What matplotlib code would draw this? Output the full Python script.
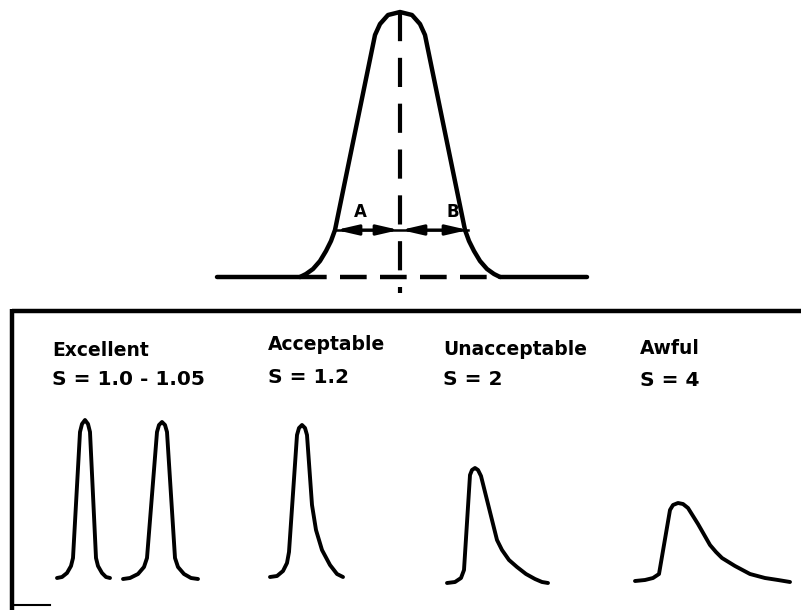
import numpy as np
import matplotlib
matplotlib.use('Agg')
import matplotlib.pyplot as plt

# Coordinates are in pixels of the 801x610 picture (y grows downwards)

# main peak outline and its baseline
main_peak_x = [217, 300, 306, 313, 320, 326, 331, 335, 375, 380, 388, 400, 412, 420, 425,
               465, 469, 474, 480, 487, 494, 500, 587]
main_peak_y = [277, 277, 274, 269, 261, 251, 241, 230, 35, 24, 15, 12, 15, 24, 35,
               230, 241, 251, 261, 269, 274, 277, 277]
baseline_y = 277
center_x = 400
half_width_y = 230
half_left_x = 336
half_right_x = 468

# small example peaks
peak_labels = ['Excellent', 'Acceptable', 'Unacceptable', 'Awful']
peak_factors = ['S = 1.0 - 1.05', 'S = 1.2', 'S = 2', 'S = 4']
label_x = [52, 268, 443, 640]
label_y = [356, 350, 355, 354]
factor_y = [385, 383, 385, 386]

exc1_x = [57, 62, 67, 71, 73, 80, 82, 85, 88, 90, 96, 98, 102, 106, 110]
exc1_y = [578, 577, 573, 566, 558, 432, 424, 420, 424, 432, 558, 566, 573, 577, 578]
exc2_x = [123, 130, 138, 144, 147, 157, 159, 162, 165, 167, 175, 178, 184, 191, 198]
exc2_y = [579, 578, 574, 567, 558, 432, 425, 422, 425, 432, 558, 567, 574, 578, 579]
acc_x = [270, 277, 283, 287, 289, 297, 299, 302, 305, 307, 312, 316, 322, 330, 337, 343]
acc_y = [577, 576, 571, 563, 552, 435, 428, 425, 428, 435, 505, 530, 550, 565, 574, 577]
unacc_x = [447, 455, 461, 464, 470, 472, 475, 478, 481, 497, 502, 509, 517, 526, 535, 542, 548]
unacc_y = [583, 582, 578, 570, 475, 470, 468, 470, 476, 540, 550, 560, 567, 574, 579, 582, 583]
awful_x = [635, 645, 653, 659, 670, 673, 678, 683, 688, 698, 710, 716, 722, 735, 750, 765, 778, 790]
awful_y = [581, 580, 578, 574, 510, 505, 503, 504, 508, 524, 545, 552, 558, 566, 574, 578, 580, 582]

fig = plt.figure(figsize=(8.01, 6.10), dpi=100)
ax = fig.add_axes([0, 0, 1, 1])
ax.set_xlim(0, 801)
ax.set_ylim(610, 0)
ax.axis('off')

line_kw = dict(color='black', solid_joinstyle='round', solid_capstyle='round')

# main peak
ax.plot(main_peak_x[:2], [baseline_y] * 2, lw=3.2, **line_kw)
ax.plot(main_peak_x[-2:], [baseline_y] * 2, lw=3.2, **line_kw)
ax.plot(main_peak_x[1:-1], main_peak_y[1:-1], lw=3.2, **line_kw)
ax.plot([300, 500], [baseline_y, baseline_y], color='black', lw=3.2,
        linestyle=(0, (6, 3)))
ax.plot([center_x, center_x], [12, 293], color='black', lw=3.0,
        linestyle=(0, (7, 4)))

# A / B half widths
ax.plot([half_left_x, half_right_x], [half_width_y, half_width_y], color='black', lw=1.8)
arrow = dict(arrowstyle='<|-|>,head_length=1.3,head_width=0.3', color='black',
             lw=2.2, shrinkA=0, shrinkB=0)
ax.annotate('', xy=(half_left_x, half_width_y), xytext=(center_x - 1, half_width_y),
            arrowprops=arrow)
ax.annotate('', xy=(center_x + 1, half_width_y), xytext=(half_right_x, half_width_y),
            arrowprops=arrow)
ax.text(360, 212, 'A', fontsize=12, fontweight='bold', ha='center', va='center')
ax.text(453, 212, 'B', fontsize=12, fontweight='bold', ha='center', va='center')

# frame of the lower panel
ax.plot([12, 801], [311, 311], color='black', lw=3.2, solid_capstyle='butt')
ax.plot([12, 12], [309, 610], color='black', lw=3.2, solid_capstyle='butt')
ax.plot([12, 50], [605, 605], color='black', lw=1.5)

# labels
for lab, fac, x, y1, y2 in zip(peak_labels, peak_factors, label_x, label_y, factor_y):
    ax.text(x, y1, lab, fontsize=13.5, fontweight='bold', va='baseline')
    ax.text(x, y2, fac, fontsize=14.5, fontweight='bold', va='baseline')

# example peaks
for xs, ys in [(exc1_x, exc1_y), (exc2_x, exc2_y), (acc_x, acc_y),
               (unacc_x, unacc_y), (awful_x, awful_y)]:
    ax.plot(xs, ys, lw=2.8, **line_kw)

plt.savefig('out.png', dpi=100)
